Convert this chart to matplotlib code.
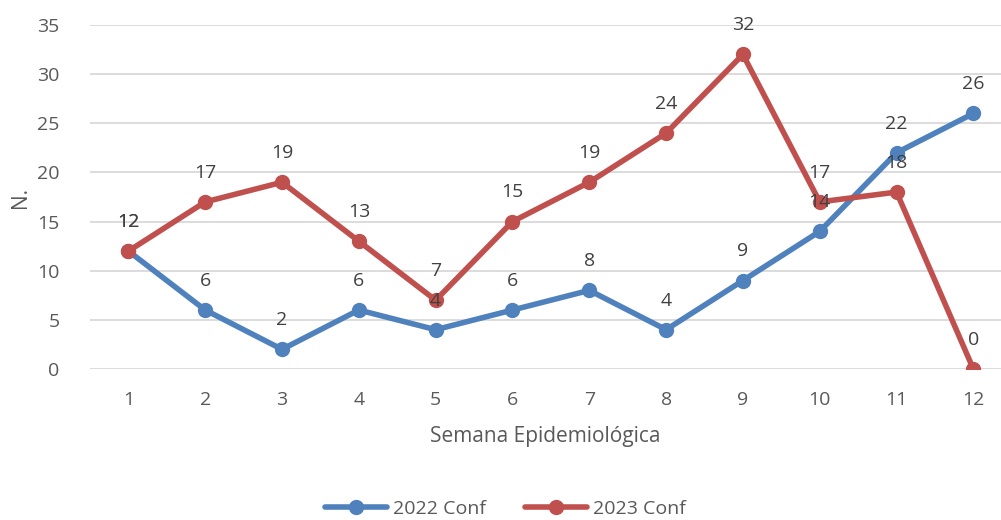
import matplotlib
matplotlib.use("Agg")
import matplotlib.pyplot as plt

# datos
semanas = [1, 2, 3, 4, 5, 6, 7, 8, 9, 10, 11, 12]
conf_2022 = [12, 6, 2, 6, 4, 6, 8, 4, 9, 14, 22, 26]
conf_2023 = [12, 17, 19, 13, 7, 15, 19, 24, 32, 17, 18, 0]

plt.rcParams['font.family'] = ['Open Sans', 'DejaVu Sans']

fig = plt.figure(figsize=(10.01, 5.2), dpi=100)
ax = fig.add_axes([90 / 1001, 151 / 520, 911 / 1001, 344 / 520])

azul = "#4F81BD"
rojo = "#C0504D"

ax.plot(semanas, conf_2022, color=azul, lw=4, marker="o", ms=10,
        label="2022 Conf", solid_capstyle="round", zorder=3)
ax.plot(semanas, conf_2023, color=rojo, lw=4, marker="o", ms=10,
        label="2023 Conf", solid_capstyle="round", zorder=4)

# etiquetas de datos encima de cada punto
for serie in (conf_2022, conf_2023):
    for x, y in zip(semanas, serie):
        ax.annotate(str(y), (x, y), xytext=(0, 21), textcoords="offset points",
                    ha="center", va="center", fontsize=14, color="#404040", zorder=5)

ax.set_xlim(0.5, 12.36)
ax.set_ylim(0, 35)
ax.set_yticks(range(0, 36, 5))
ax.set_xticks(semanas)
ax.grid(axis="y", color="#D9D9D9", lw=1.3)
ax.set_axisbelow(True)
for s in ax.spines.values():
    s.set_visible(False)
ax.tick_params(length=0, labelsize=14, labelcolor="#595959")
ax.tick_params(axis="x", pad=16)
ax.tick_params(axis="y", pad=22)

ax.set_xlabel("Semana Epidemiológica", fontsize=15, color="#595959", labelpad=12)
ax.set_ylabel("N.", fontsize=15, color="#595959", labelpad=4)

fig.legend(loc="center", bbox_to_anchor=(505 / 1001, 1 - 509 / 520), ncol=2,
           frameon=False, fontsize=14, labelcolor="#595959",
           handlelength=3.2, columnspacing=2.0, handletextpad=0.3)

fig.savefig("out.png", dpi=100)
